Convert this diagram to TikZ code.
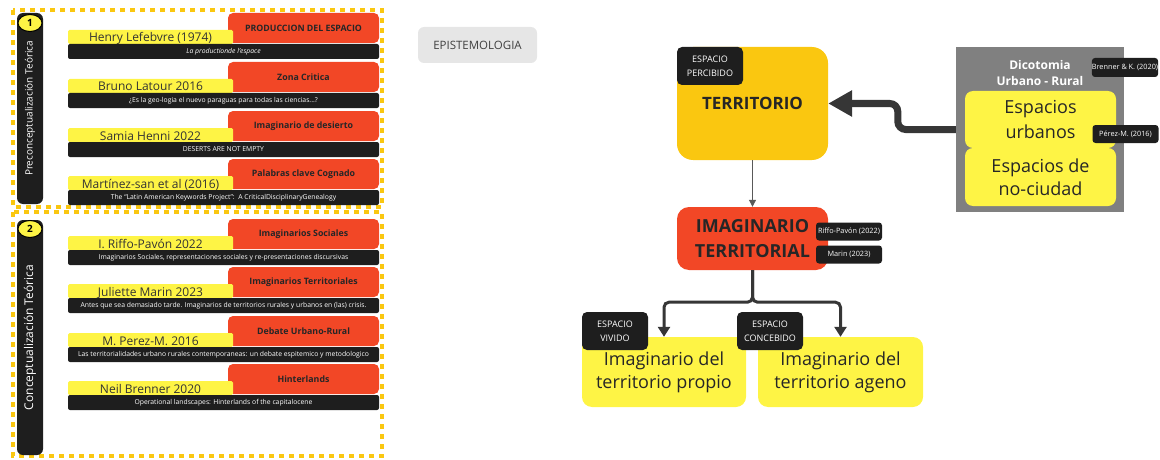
\documentclass[tikz,border=0pt]{standalone}
\usepackage{fontspec}
\setmainfont{Open Sans}
\usetikzlibrary{shapes.geometric, arrows.meta, positioning}
\definecolor{miroRed}{HTML}{F24726}
\definecolor{miroGold}{HTML}{FAC710}
\definecolor{miroYellow}{HTML}{FEF445}
\definecolor{tagBlack}{HTML}{1E1E1E}
\definecolor{boxGray}{HTML}{808080}
\definecolor{lineGray}{HTML}{363636}
\definecolor{softGray}{HTML}{E6E6E6}
\tikzstyle{frame} = [draw=miroGold, line width=4pt, dash pattern=on 5pt off 5pt]
\tikzstyle{sidebar} = [rectangle, rounded corners=6pt, fill=tagBlack, text=white, minimum height=26pt, rotate=90]
\tikzstyle{number} = [ellipse, minimum width=24pt, minimum height=17pt, inner sep=0pt, fill=miroYellow, draw=black, line width=1pt, font=\bfseries\fontsize{10}{12}\selectfont]
\tikzstyle{topic} = [rectangle, rounded corners=5pt, minimum width=151pt, minimum height=30pt, text centered, fill=miroRed, text=black!85, font=\bfseries\fontsize{8.8}{10}\selectfont]
\tikzstyle{author} = [rectangle, rounded corners=1.5pt, minimum width=165pt, minimum height=14pt, inner ysep=1pt, text height=11pt, text depth=1pt, fill=miroYellow, text=black!80, font=\fontsize{12}{14}\selectfont]
\tikzstyle{source} = [rectangle, rounded corners=2pt, minimum width=311pt, minimum height=15pt, inner sep=0pt, fill=tagBlack, text=white, font=\fontsize{6.8}{8}\selectfont]
\tikzstyle{spacetag} = [rectangle, rounded corners=5pt, minimum width=66pt, minimum height=38pt, inner sep=0pt, align=center, fill=tagBlack, text=white, font=\fontsize{9}{14}\selectfont]
\tikzstyle{reftag} = [rectangle, rounded corners=3pt, minimum width=66pt, minimum height=18pt, inner sep=0pt, fill=tagBlack, text=white, font=\fontsize{7.3}{8}\selectfont]
\tikzstyle{concept} = [rectangle, rounded corners=10pt, align=center, text=black!85, font=\fontsize{18}{23}\selectfont]
\tikzstyle{bigarrow} = [line width=7pt, draw=lineGray, rounded corners=8pt, -{Triangle[length=24pt, width=25pt]}]
\tikzstyle{thinarrow} = [line width=1pt, draw=black!65, -{Triangle[length=7pt, width=7pt]}]
\tikzstyle{branch} = [line width=3pt, draw=lineGray, rounded corners=5pt, -{Triangle[length=10pt, width=12pt]}]

\begin{document}
\begin{tikzpicture}[x=1pt, y=-1pt]
\useasboundingbox (0,0) rectangle (1160,460);

% left column: literature
\draw [frame] (13,10) rectangle (382,207);
\draw [frame] (13,212) rectangle (382,456);
\node (bar_pre) [sidebar, minimum width=191pt, font=\fontsize{10}{12}\selectfont] at (30,108.5) {Preconceptualización Teórica};
\node (bar_con) [sidebar, minimum width=235pt, font=\fontsize{12}{14}\selectfont] at (30,337.5) {Conceptualización Teórica};
\node (num_pre) [number] at (30,23) {1};
\node (num_con) [number] at (30,229) {2};

\node (topic_lefebvre) [topic] at (303.5,28) {PRODUCCION DEL ESPACIO};
\node (author_lefebvre) [author] at (150.5,37) {Henry Lefebvre (1974)};
\node (source_lefebvre) [source] at (223.5,51.5) {\itshape La productionde l'espace};

\node (topic_latour) [topic] at (303.5,77) {Zona Critica};
\node (author_latour) [author] at (150.5,86) {Bruno Latour 2016};
\node (source_latour) [source] at (223.5,100.5) {¿Es la geo-logia el nuevo paraguas para todas las ciencias...?};

\node (topic_henni) [topic] at (303.5,126) {Imaginario de desierto};
\node (author_henni) [author] at (150.5,135) {Samia Henni 2022};
\node (source_henni) [source] at (223.5,149.5) {DESERTS ARE NOT EMPTY};

\node (topic_martinez) [topic] at (303.5,174) {Palabras clave Cognado};
\node (author_martinez) [author] at (150.5,183) {Martínez-san et al (2016)};
\node (source_martinez) [source] at (223.5,197.5) {The ``Latin American Keywords Project'':\ \ A CriticalDisciplinaryGenealogy};

\node (topic_riffo) [topic] at (303.5,234) {Imaginarios Sociales};
\node (author_riffo) [author] at (150.5,243) {I. Riffo-Pavón 2022};
\node (source_riffo) [source] at (223.5,257.5) {Imaginarios Sociales, representaciones sociales y re-presentaciones discursivas};

\node (topic_marin) [topic] at (303.5,282) {Imaginarios Territoriales};
\node (author_marin) [author] at (150.5,291) {Juliette Marin 2023};
\node (source_marin) [source] at (223.5,305.5) {Antes que sea demasiado tarde. Imaginarios de territorios rurales y urbanos en (las) crisis.};

\node (topic_perez) [topic] at (303.5,331) {Debate Urbano-Rural};
\node (author_perez) [author] at (150.5,340) {M. Perez-M. 2016};
\node (source_perez) [source] at (223.5,354.5) {Las territorialidades urbano rurales contemporaneas: un debate espitemico y metodologico};

\node (topic_brenner) [topic] at (303.5,379) {Hinterlands};
\node (author_brenner) [author] at (150.5,388) {Neil Brenner 2020};
\node (source_brenner) [source] at (223.5,402.5) {Operational landscapes: Hinterlands of the capitalocene};

\node (epistemologia) [rectangle, rounded corners=6pt, minimum width=119pt, minimum height=36pt, fill=softGray, text=black!75, font=\fontsize{11.5}{13}\selectfont] at (477.5,45) {EPISTEMOLOGIA};

% right side: concept map
\node (territorio) [concept, minimum width=151pt, minimum height=113pt, rounded corners=16pt, fill=miroGold, font=\bfseries\fontsize{17}{20}\selectfont] at (752.5,103.5) {TERRITORIO};
\node (percibido) [spacetag, anchor=north west] at (territorio.north west) {ESPACIO\\PERCIBIDO};

\node (imaginario) [concept, minimum width=151pt, minimum height=63pt, rounded corners=12pt, fill=miroRed, font=\bfseries\fontsize{18}{25}\selectfont] at (752.5,238.5) {IMAGINARIO\\TERRITORIAL};
\node (ref_riffo) [reftag] at (849,231.5) {Riffo-Pavón (2022)};
\node (ref_marin) [reftag] at (849,254.5) {Marin (2023)};

\node (propio) [concept, minimum width=164pt, minimum height=70pt, fill=miroYellow] at (664,372) {Imaginario del\\territorio propio};
\node (ageno) [concept, minimum width=165pt, minimum height=70pt, fill=miroYellow] at (840.5,372) {Imaginario del\\territorio ageno};
\node (vivido) [spacetag] at (615,331) {ESPACIO\\VIVIDO};
\node (concebido) [spacetag] at (770,331) {ESPACIO\\CONCEBIDO};

\node (dico) [rectangle, minimum width=168pt, minimum height=165pt, fill=boxGray] at (1040,129.5) {};
\node (dico_title) [align=center, text=white, font=\bfseries\fontsize{12}{16}\selectfont] at (1040,73) {Dicotomia\\Urbano - Rural};
\node (urbanos) [concept, minimum width=151pt, minimum height=57pt, rounded corners=8pt, fill=miroYellow, font=\fontsize{18}{25}\selectfont] at (1040.5,119.5) {Espacios\\urbanos};
\node (ciudad) [concept, minimum width=151pt, minimum height=58pt, rounded corners=8pt, fill=miroYellow] at (1040.5,177) {Espacios de\\no-ciudad};
\node (ref_brenner) [reftag, minimum height=19pt] at (1125,67.5) {Brenner \& K. (2020)};
\node (ref_perez) [reftag] at (1125.5,134) {Pérez-M. (2016)};

\draw [bigarrow] (dico.west) -- ++(-58,0) |- (territorio.east);
\draw [thinarrow] (territorio.south) -- (imaginario.north);
\draw [branch] (imaginario.south) -- ++(0,32) -| (propio.north);
\draw [branch] (imaginario.south) -- ++(0,32) -| (ageno.north);
\end{tikzpicture}
\end{document}
